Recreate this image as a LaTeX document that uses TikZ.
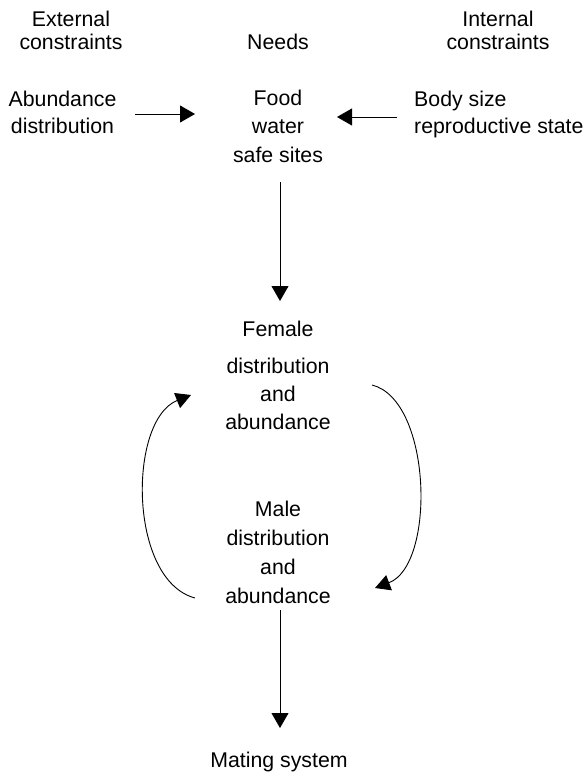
\documentclass[tikz,border=0pt]{standalone}
\usepackage{fontspec}
\setmainfont{Liberation Sans}
\usetikzlibrary{arrows.meta}
\tikzset{
  txt/.style={font=\fontsize{21.3}{#1}\selectfont, inner sep=0pt, align=center, anchor=base},
  txt/.default=28,
  arr/.style={line width=0.9pt, -{Triangle[length=15pt,width=17pt]}},
  carr/.style={line width=0.9pt, -{Triangle[length=15pt,width=16pt]}}
}
\begin{document}
\begin{tikzpicture}[x=1pt,y=-1pt]
\useasboundingbox (0,0) rectangle (587,773);
% headers (anchor = baseline of last line)
\node[txt=23] (ext) at (71,50) {External\\constraints};
\node[txt] (needs) at (278,50) {Needs};
\node[txt=23] (int) at (498,50) {Internal\\constraints};
% second row
\node[txt=27] (abund) at (62.5,133) {Abundance\\distribution};
\node[txt=28.5] (food) at (278,162) {Food\\water\\safe sites};
\node[txt=27, align=left, anchor=base west] (body) at (414,133) {Body size\\reproductive state};
% female / male
\node[txt] (female) at (278,336) {Female};
\node[txt=28] (fdist) at (278,429) {distribution\\and\\abundance};
\node[txt=28.67] (male) at (278,603) {Male\\distribution\\and\\abundance};
\node[txt] (mating) at (279,767) {Mating system};
% connector end points
\coordinate (a1) at (135,114);
\coordinate (a2) at (195,114);
\coordinate (b1) at (397,117);
\coordinate (b2) at (337,117);
\coordinate (c1) at (280,182);
\coordinate (c2) at (280,301);
\coordinate (d1) at (280,610);
\coordinate (d2) at (280,728);
\coordinate (l1) at (195,598);
\coordinate (l2) at (191,395);
\coordinate (r1) at (372,385);
\coordinate (r2) at (375,588);
% connectors
\draw[arr] (a1) -- (a2);
\draw[arr] (b1) -- (b2);
\draw[arr] (c1) -- (c2);
\draw[arr] (d1) -- (d2);
\draw[carr] (l1) .. controls (128,580) and (128,420) .. (l2);
\draw[carr] (r1) .. controls (432,400) and (436,565) .. (r2);
\end{tikzpicture}
\end{document}
